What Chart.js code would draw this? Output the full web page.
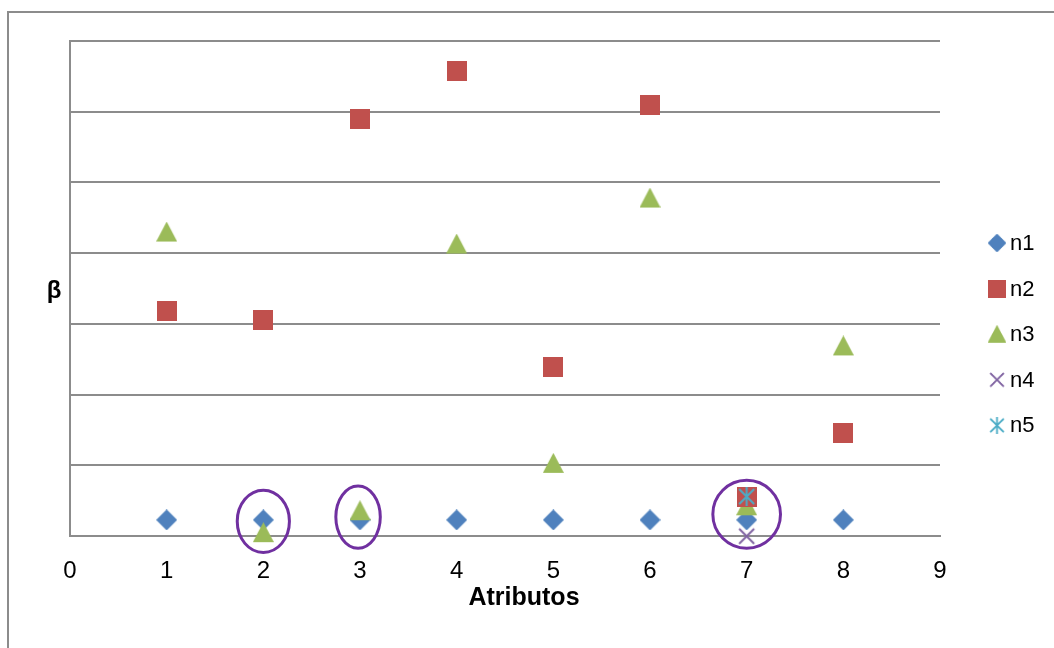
<!DOCTYPE html>
<html lang="es">
<head>
<meta charset="utf-8">
<title>β por atributo</title>
<script src="https://cdn.jsdelivr.net/npm/chart.js@4/dist/chart.umd.min.js"></script>
<style>
  html, body { margin: 0; padding: 0; background: #fff; }
  canvas { display: block; }
</style>
</head>
<body>
<canvas id="betaChart" width="1054" height="648"></canvas>
<script>
// values
const attributes = [1, 2, 3, 4, 5, 6, 7, 8];
const n1Values = [0.23, 0.23, 0.23, 0.23, 0.23, 0.23, 0.23, 0.23];
const n2Values = [3.18, 3.05, 5.90, 6.58, 2.39, 6.09, 0.56, 1.46];
const n3Values = [4.30, 0.05, 0.36, 4.13, 1.03, 4.78, 0.43, 2.69];
const n4Attributes = [7];
const n4Values = [0];
const n5Attributes = [7];
const n5Values = [0.56];

const xTickValues = [0, 1, 2, 3, 4, 5, 6, 7, 8, 9];
const yGridValues = [0, 1, 2, 3, 4, 5, 6, 7];

// hand-drawn rings around the overlapping points (data units)
const ringX = [2, 2.98, 7];
const ringY = [0.21, 0.27, 0.31];
const ringRx = [0.27, 0.23, 0.35];
const ringRy = [0.44, 0.44, 0.48];

const FONT = '"Liberation Sans", Arial, sans-serif';
const GRID = '#8c8c8c';

function makeMarker(shape, color, size) {
  const c = document.createElement('canvas');
  c.width = size;
  c.height = size;
  const g = c.getContext('2d');
  const h = size / 2;
  g.fillStyle = color;
  g.strokeStyle = color;
  g.lineWidth = 2;
  g.beginPath();
  if (shape === 'diamond') {
    g.moveTo(h, 0); g.lineTo(size, h); g.lineTo(h, size); g.lineTo(0, h);
    g.closePath(); g.fill();
  } else if (shape === 'square') {
    g.rect(0, 0, size, size); g.fill();
  } else if (shape === 'triangle') {
    g.moveTo(h, 0); g.lineTo(size, size - 1); g.lineTo(0, size - 1);
    g.closePath(); g.fill();
  } else {
    g.moveTo(2, 2); g.lineTo(size - 2, size - 2);
    g.moveTo(size - 2, 2); g.lineTo(2, size - 2);
    if (shape === 'asterisk') {
      g.moveTo(h, 0); g.lineTo(h, size);
    }
    g.stroke();
  }
  return c;
}

function points(xs, ys) {
  return xs.map((x, i) => ({ x, y: ys[i] }));
}

const frame = {
  id: 'frame',
  beforeDraw(chart) {
    const { ctx, width, height } = chart;
    ctx.save();
    ctx.fillStyle = '#fff';
    ctx.fillRect(0, 0, width, height);
    ctx.strokeStyle = GRID;
    ctx.lineWidth = 2;
    ctx.beginPath();
    ctx.moveTo(8, height + 5);
    ctx.lineTo(8, 12);
    ctx.lineTo(width + 5, 12);
    ctx.stroke();
    ctx.restore();
  }
};

const rings = {
  id: 'rings',
  afterDatasetsDraw(chart) {
    const { ctx, scales: { x, y } } = chart;
    ctx.save();
    ctx.strokeStyle = '#7030a0';
    ctx.lineWidth = 3;
    ringX.forEach((v, i) => {
      const cx = x.getPixelForValue(v);
      const cy = y.getPixelForValue(ringY[i]);
      const rx = x.getPixelForValue(v + ringRx[i]) - cx;
      const ry = cy - y.getPixelForValue(ringY[i] + ringRy[i]);
      ctx.beginPath();
      ctx.ellipse(cx, cy, rx, ry, 0, 0, Math.PI * 2);
      ctx.stroke();
    });
    ctx.restore();
  }
};

// Excel-style legend and axis titles: marker right next to the text,
// "β" kept upright, "Atributos" centred on the whole chart like the original
const sideLegend = {
  id: 'sideLegend',
  afterDraw(chart) {
    const { ctx, chartArea, width } = chart;
    ctx.save();
    ctx.font = '22px ' + FONT;
    ctx.textBaseline = 'middle';
    ctx.fillStyle = '#000';
    chart.data.datasets.forEach((ds, i) => {
      const cy = 243 + i * 45.6;
      const cx = chartArea.right + 57;
      const img = ds.pointStyle;
      const w = img.width * 0.9;
      const h = img.height * 0.9;
      ctx.drawImage(img, cx - w / 2, cy - h / 2, w, h);
      ctx.fillText(ds.label, cx + 13, cy + 1);
    });
    ctx.font = 'bold 24px ' + FONT;
    ctx.textAlign = 'center';
    ctx.textBaseline = 'alphabetic';
    ctx.fillText('β', chartArea.left - 16, 298);
    ctx.font = 'bold 25px ' + FONT;
    ctx.fillText('Atributos', width / 2 - 3, 605);
    ctx.restore();
  }
};

Chart.defaults.font.family = FONT;
Chart.defaults.color = '#000';

new Chart(document.getElementById('betaChart'), {
  type: 'scatter',
  data: {
    datasets: [
      { label: 'n1', data: points(attributes, n1Values), pointStyle: makeMarker('diamond', '#4f81bd', 21), order: 3 },
      { label: 'n2', data: points(attributes, n2Values), pointStyle: makeMarker('square', '#c0504d', 20), order: 1 },
      { label: 'n3', data: points(attributes, n3Values), pointStyle: makeMarker('triangle', '#9bbb59', 21), order: 2 },
      { label: 'n4', data: points(n4Attributes, n4Values), pointStyle: makeMarker('cross', '#8064a2', 19), order: 4 },
      { label: 'n5', data: points(n5Attributes, n5Values), pointStyle: makeMarker('asterisk', '#4bacc6', 19), order: 0 }
    ].map((ds) => Object.assign(ds, { pointRadius: 10, pointHoverRadius: 10, clip: false }))
  },
  options: {
    responsive: false,
    animation: false,
    devicePixelRatio: 1,
    layout: { padding: { left: 70, top: 41, right: 114, bottom: 42 } },
    plugins: {
      legend: { display: false },
      tooltip: { enabled: false }
    },
    scales: {
      x: {
        type: 'linear',
        min: xTickValues[0],
        max: xTickValues[xTickValues.length - 1],
        ticks: { stepSize: 1, padding: 20.5, font: { size: 24 } },
        grid: { display: false, drawTicks: false },
        border: { color: GRID, width: 2 }
      },
      y: {
        min: yGridValues[0],
        max: yGridValues[yGridValues.length - 1],
        ticks: { display: false, stepSize: 1 },
        grid: { color: GRID, lineWidth: 2, drawTicks: false },
        border: { color: GRID, width: 2 }
      }
    }
  },
  plugins: [frame, rings, sideLegend]
});
</script>
</body>
</html>
